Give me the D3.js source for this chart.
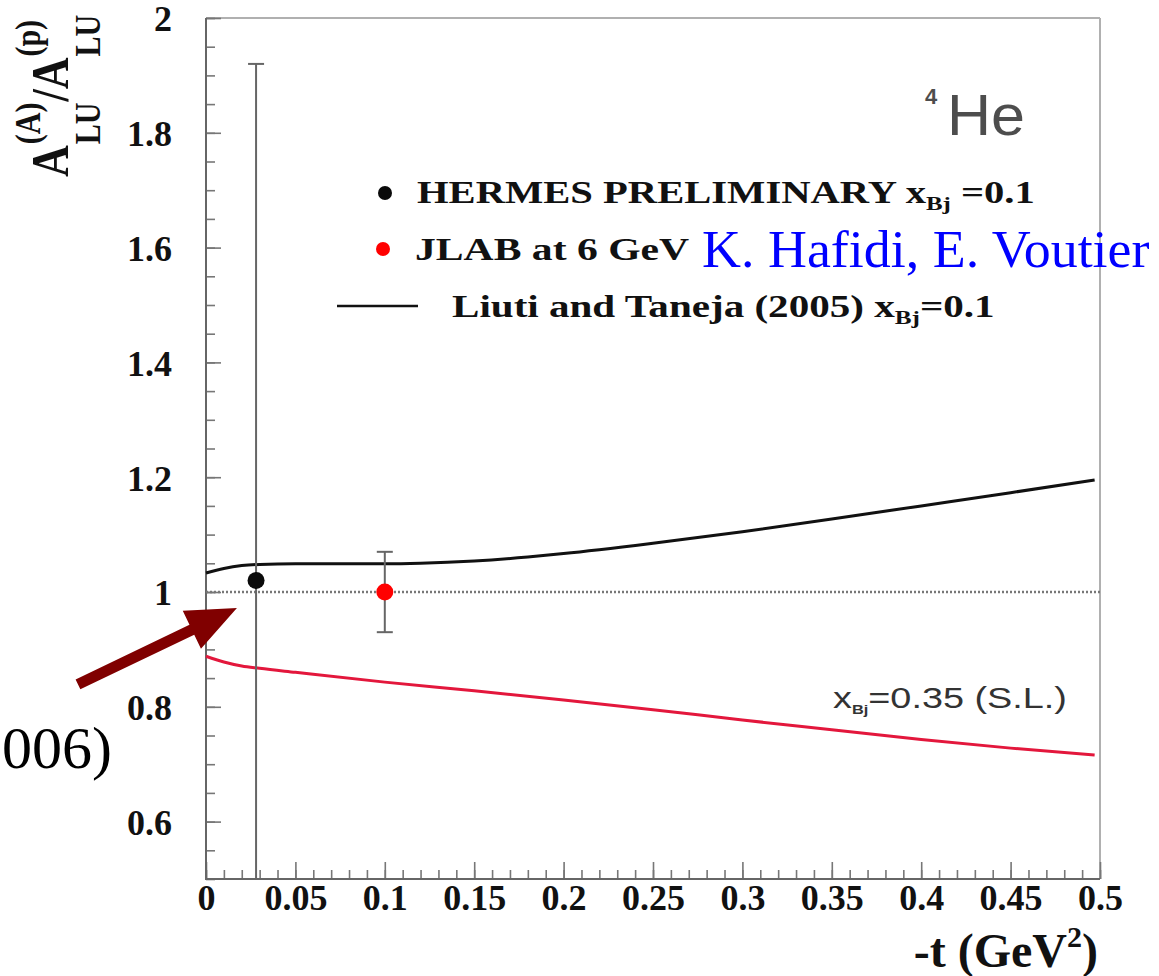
<!DOCTYPE html>
<html>
<head>
<meta charset="utf-8">
<script src="https://cdn.jsdelivr.net/npm/d3@7"></script>
<style>
  html, body { margin: 0; padding: 0; background: #fff; }
  svg { display: block; }
  .serif { font-family: "Liberation Serif", "Times New Roman", serif; }
  .sans { font-family: "Liberation Sans", Arial, sans-serif; }
</style>
</head>
<body>
<svg id="chart" width="1159" height="976"></svg>
<script>
// ---- data -------------------------------------------------------------
// model curve, Liuti & Taneja (2005), x_Bj = 0.1
const modelT   = [0, 0.01, 0.02, 0.03, 0.05, 0.08, 0.1, 0.12, 0.15, 0.18, 0.2, 0.25, 0.3, 0.35, 0.4, 0.45, 0.497];
const modelV   = [1.033, 1.041, 1.046, 1.048, 1.049, 1.049, 1.049, 1.050, 1.054, 1.061, 1.067, 1.085, 1.105, 1.127, 1.150, 1.173, 1.195];
// model curve, x_Bj = 0.35 (S.L.)
const slT      = [0, 0.01, 0.02, 0.03, 0.05, 0.1, 0.15, 0.2, 0.25, 0.3, 0.35, 0.4, 0.45, 0.497];
const slV      = [0.888, 0.878, 0.871, 0.867, 0.860, 0.843, 0.828, 0.812, 0.795, 0.777, 0.760, 0.743, 0.728, 0.716];
// HERMES preliminary point
const hermesT   = [0.028];
const hermesV   = [1.02];
const hermesErr = [0.9];
// JLAB at 6 GeV projected point
const jlabT   = [0.1];
const jlabV   = [1.0];
const jlabErr = [0.07];

const xTicks      = [0, 0.05, 0.1, 0.15, 0.2, 0.25, 0.3, 0.35, 0.4, 0.45, 0.5];
const xTickLabels = ["0", "0.05", "0.1", "0.15", "0.2", "0.25", "0.3", "0.35", "0.4", "0.45", "0.5"];
const yTicks      = [0.6, 0.8, 1.0, 1.2, 1.4, 1.6, 1.8, 2.0];
const yTickLabels = ["0.6", "0.8", "1", "1.2", "1.4", "1.6", "1.8", "2"];
const refLine     = [1.0];

// arrow annotation (data coordinates: tail outside the frame, tip near the HERMES point)
const arrowTail = [-0.0716, 0.839];
const arrowTip  = [0.0173, 0.972];

// ---- layout -----------------------------------------------------------
const svg = d3.select("#chart");
const L = 206, R = 1100, T = 18, B = 879;
const x = d3.scaleLinear().domain([0, 0.5]).range([L, R]);
const y = d3.scaleLinear().domain([0.5, 2]).range([B, T]);

svg.append("defs").append("clipPath").attr("id", "plotClip")
  .append("rect").attr("x", L).attr("y", T).attr("width", R - L).attr("height", B - T);

// stretch a text horizontally so it spans [x0, x1]
function fitX(sel, x0, x1) {
  const b = sel.node().getBBox();
  const s = (x1 - x0) / b.width;
  sel.attr("transform", `translate(${x0},0) scale(${s},1) translate(${-b.x},0)`);
}

// ---- frame ------------------------------------------------------------
svg.append("line").attr("x1", L).attr("x2", R).attr("y1", T).attr("y2", T)
  .attr("stroke", "#b0b0b0").attr("stroke-width", 2);
svg.append("line").attr("x1", R).attr("x2", R).attr("y1", T).attr("y2", B)
  .attr("stroke", "#b0b0b0").attr("stroke-width", 2);

// inward ticks
function tickStyle(g) {
  g.select(".domain").remove();
  g.selectAll(".tick line").attr("stroke", "#777").attr("stroke-width", 1.6);
  g.selectAll("text").remove();
}
svg.append("g").attr("transform", `translate(${L},0)`)
  .call(d3.axisRight(y).tickValues(d3.range(0.5, 2.001, 0.05)).tickSize(9)).call(tickStyle);
svg.append("g").attr("transform", `translate(${L},0)`)
  .call(d3.axisRight(y).tickValues(d3.range(0.6, 2.001, 0.2)).tickSize(15)).call(tickStyle);
svg.append("g").attr("transform", `translate(0,${B})`)
  .call(d3.axisTop(x).tickValues(d3.range(0, 0.5001, 0.01)).tickSize(9)).call(tickStyle);
svg.append("g").attr("transform", `translate(0,${B})`)
  .call(d3.axisTop(x).tickValues(xTicks).tickSize(17)).call(tickStyle);

svg.append("line").attr("x1", L).attr("x2", L).attr("y1", T).attr("y2", B + 1)
  .attr("stroke", "#666").attr("stroke-width", 2);
svg.append("line").attr("x1", L - 1).attr("x2", R).attr("y1", B).attr("y2", B)
  .attr("stroke", "#666").attr("stroke-width", 2);

// tick labels
const yAx = svg.append("g").attr("transform", `translate(${L},0)`)
  .call(d3.axisLeft(y).tickValues(yTicks).tickSize(0).tickPadding(34)
    .tickFormat((d, i) => yTickLabels[i]));
yAx.select(".domain").remove();
yAx.selectAll("text").attr("class", "serif").attr("font-size", 36).attr("font-weight", "bold")
  .attr("fill", "#111").attr("dy", "0.36em");

const xAx = svg.append("g").attr("transform", `translate(0,${B})`)
  .call(d3.axisBottom(x).tickValues(xTicks).tickSize(0).tickPadding(5)
    .tickFormat((d, i) => xTickLabels[i]));
xAx.select(".domain").remove();
xAx.selectAll("text").attr("class", "serif").attr("font-size", 36).attr("font-weight", "bold")
  .attr("fill", "#111");

// ---- axis titles ------------------------------------------------------
const xt = svg.append("text").attr("class", "serif").attr("font-weight", "bold")
  .attr("font-size", 48).attr("fill", "#111").attr("text-anchor", "end")
  .attr("x", 1098).attr("y", 967);
xt.append("tspan").text("-t (GeV");
xt.append("tspan").attr("font-size", 30).attr("dy", -20).text("2");
xt.append("tspan").attr("dy", 20).text(")");

const yt = svg.append("g").attr("class", "serif")
  .attr("transform", "translate(68,177) rotate(-90) scale(1,1.2)")
  .attr("font-weight", "bold").attr("fill", "#111");
{
  let cx = 0;
  const base = (s) => {
    const t = yt.append("text").attr("x", cx).attr("y", 0).attr("font-size", 44).text(s);
    cx += t.node().getComputedTextLength();
  };
  const stack = (sup, sub) => {
    const a = yt.append("text").attr("x", cx + 1).attr("y", -23).attr("font-size", 30).text(sup);
    const b = yt.append("text").attr("x", cx + 1).attr("y", 27).attr("font-size", 30).text(sub);
    cx += Math.max(a.node().getComputedTextLength(), b.node().getComputedTextLength()) + 2;
  };
  base("A"); stack("(A)", "LU"); base("/"); base("A"); stack("(p)", "LU");
}

// ---- reference line at 1 ----------------------------------------------
svg.append("g").selectAll("line").data(refLine).join("line")
  .attr("x1", L).attr("x2", R).attr("y1", d => y(d)).attr("y2", d => y(d))
  .attr("stroke", "#777").attr("stroke-width", 2.4).attr("stroke-dasharray", "2,2");

// ---- model curves -----------------------------------------------------
const line = d3.line().x(d => x(d[0])).y(d => y(d[1])).curve(d3.curveMonotoneX);
svg.append("path").datum(modelT.map((t, i) => [t, modelV[i]]))
  .attr("d", line).attr("fill", "none").attr("stroke", "#111").attr("stroke-width", 3);
svg.append("path").datum(slT.map((t, i) => [t, slV[i]]))
  .attr("d", line).attr("fill", "none").attr("stroke", "#e3173c").attr("stroke-width", 3);

// ---- data points with error bars --------------------------------------
const pts = svg.append("g").attr("clip-path", "url(#plotClip)");
function drawSeries(ts, vs, es, color) {
  const d = ts.map((t, i) => ({ t, v: vs[i], e: es[i] }));
  pts.append("g").selectAll("line.bar").data(d).join("line")
    .attr("x1", p => x(p.t)).attr("x2", p => x(p.t))
    .attr("y1", p => y(p.v + p.e)).attr("y2", p => y(p.v - p.e))
    .attr("stroke", "#666").attr("stroke-width", 2);
  pts.append("g").selectAll("line.cap").data(d).join("line")
    .attr("x1", p => x(p.t) - 8).attr("x2", p => x(p.t) + 8)
    .attr("y1", p => y(p.v + p.e)).attr("y2", p => y(p.v + p.e))
    .attr("stroke", "#666").attr("stroke-width", 2);
  pts.append("g").selectAll("line.cap2").data(d).join("line")
    .attr("x1", p => x(p.t) - 8).attr("x2", p => x(p.t) + 8)
    .attr("y1", p => y(p.v - p.e)).attr("y2", p => y(p.v - p.e))
    .attr("stroke", "#666").attr("stroke-width", 2);
  pts.append("g").selectAll("circle").data(d).join("circle")
    .attr("cx", p => x(p.t)).attr("cy", p => y(p.v)).attr("r", 8.5).attr("fill", color);
}
drawSeries(hermesT, hermesV, hermesErr, "#0a0a0a");
drawSeries(jlabT, jlabV, jlabErr, "#ff0000");

// ---- legend -----------------------------------------------------------
svg.append("circle").attr("cx", 385).attr("cy", 193).attr("r", 7).attr("fill", "#0a0a0a");
svg.append("circle").attr("cx", 383).attr("cy", 249).attr("r", 7).attr("fill", "#ff0000");
svg.append("line").attr("x1", 337).attr("x2", 418).attr("y1", 306).attr("y2", 306)
  .attr("stroke", "#111").attr("stroke-width", 2.5);

function legendText(yb, parts) {
  const t = svg.append("text").attr("class", "serif").attr("font-weight", "bold")
    .attr("font-size", 31).attr("fill", "#111").attr("x", 0).attr("y", yb);
  parts.forEach(p => {
    const s = t.append("tspan").text(p.s);
    if (p.sub) s.attr("font-size", 19).attr("dy", 7);
    if (p.back) s.attr("dy", -7);
  });
  return t;
}
fitX(legendText(203, [{ s: "HERMES PRELIMINARY x" }, { s: "Bj", sub: true }, { s: " =0.1", back: true }]), 417, 1035);
fitX(legendText(260, [{ s: "JLAB at 6 GeV" }]), 415, 690);
fitX(legendText(317, [{ s: "Liuti and Taneja (2005) x" }, { s: "Bj", sub: true }, { s: "=0.1", back: true }]), 452, 995);

// ---- labels inside the frame ------------------------------------------
const he = svg.append("text").attr("class", "sans").attr("font-size", 58).attr("fill", "#4d4d4d")
  .attr("x", 0).attr("y", 135).text("He");
fitX(he, 947, 1025);
svg.append("text").attr("class", "sans").attr("font-size", 22).attr("font-weight", "bold")
  .attr("fill", "#4d4d4d").attr("x", 925).attr("y", 104).text("4");

const sl = svg.append("text").attr("class", "sans").attr("font-size", 30).attr("fill", "#333")
  .attr("x", 0).attr("y", 708);
sl.append("tspan").text("x");
sl.append("tspan").attr("font-size", 13).attr("font-weight", "bold").attr("dy", 6).text("Bj");
sl.append("tspan").attr("dy", -6).text("=0.35 (S.L.)");
fitX(sl, 833, 1067);

// ---- annotations outside the frame ------------------------------------
const blue = svg.append("text").attr("class", "serif").attr("font-size", 53).attr("fill", "#0000ff")
  .attr("x", 0).attr("y", 267).text("K. Hafidi, E. Voutier");
fitX(blue, 702, 1150);

svg.append("text").attr("class", "serif").attr("font-size", 60).attr("fill", "#000")
  .attr("x", 2).attr("y", 768).text("006)");

// arrow built from its two anchor points
{
  const [x0, y0] = [x(arrowTail[0]), y(arrowTail[1])];
  const [x1, y1] = [x(arrowTip[0]), y(arrowTip[1])];
  const len = Math.hypot(x1 - x0, y1 - y0);
  const ux = (x1 - x0) / len, uy = (y1 - y0) / len;
  const nx = -uy, ny = ux;
  const hw = 5.5, headL = 50, headW = 21;
  const bx = x1 - ux * headL, by = y1 - uy * headL;
  const pts2 = [
    [x0 + nx * hw, y0 + ny * hw],
    [bx + nx * hw, by + ny * hw],
    [bx + nx * headW, by + ny * headW],
    [x1, y1],
    [bx - nx * headW, by - ny * headW],
    [bx - nx * hw, by - ny * hw],
    [x0 - nx * hw, y0 - ny * hw]
  ];
  svg.append("polygon").attr("points", pts2.map(p => p.join(",")).join(" "))
    .attr("fill", "#800000");
}
</script>
</body>
</html>
